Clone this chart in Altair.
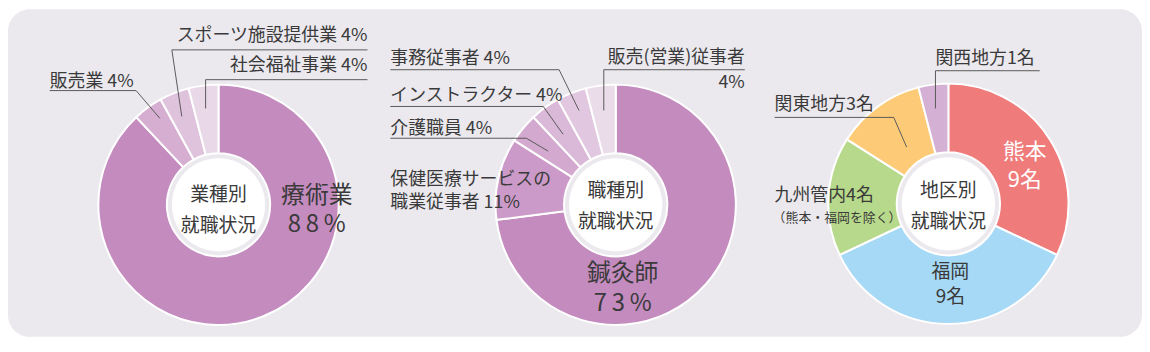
import altair as alt
import pandas as pd

OFF = 8  # page margin of the browser
FONT = "Noto Sans CJK JP"
TXT = "#3a3a3a"
LINE = "#5a5a5a"

# ---------------- data ----------------
# chart 1 : 業種別就職状況 (%)
c1_labels = ["療術業", "販売業", "スポーツ施設提供業", "社会福祉事業"]
c1_values = [88, 4, 4, 4]
# chart 2 : 職種別就職状況 (%)
c2_labels = ["鍼灸師", "保健医療サービスの\n職業従事者", "介護職員", "インストラクター", "事務従事者", "販売(営業)従事者"]
c2_values = [73, 11, 4, 4, 4, 4]
# chart 3 : 地区別就職状況 (persons, slice shares as drawn)
c3_labels = ["熊本", "福岡", "九州管内", "関東地方", "関西地方"]
c3_counts = [9, 9, 4, 3, 1]
c3_shares = [32, 36, 16, 12, 4]
c3_note = "（熊本・福岡を除く）"
titles = ["業種別\n就職状況", "職種別\n就職状況", "地区別\n就職状況"]

# ---------------- styles ----------------
c1_colors = ["#c48bbf", "#d5aed2", "#dfc3dd", "#e9d8e8"]
c2_colors = ["#c48bbf", "#cc9ac8", "#d3a9d0", "#dab8d8", "#e2c7e0", "#ebdcea"]
c3_colors = ["#ef7b7b", "#a6d9f6", "#b7d98b", "#fdcb78", "#d4b0d4"]

W, H = 1142, 330
R_OUT, R_IN = 121, 52
centers = [(220, 205), (620, 205), (955, 204)]


def donut(labels, values, colors, c):
    df = pd.DataFrame({"label": labels, "value": values, "color": colors,
                       "idx": list(range(len(labels)))})
    cx, cy = c
    return alt.Chart(df).mark_arc(radius=R_OUT, radius2=R_IN, stroke="white",
                                  strokeWidth=2).encode(
        theta=alt.Theta("value:Q", stack=True),
        order=alt.Order("idx:Q"),
        color=alt.Color("color:N", scale=None),
        x=alt.value(cx - OFF), y=alt.value(cy - OFF))


def hole(c):
    cx, cy = c
    return alt.Chart(pd.DataFrame({"a": [0]})).mark_circle(
        size=3.14159 * 53 * 53, color="white", opacity=1).encode(
        x=alt.value(cx - OFF), y=alt.value(cy - OFF))


def texts(rows, align, size, color=TXT, lh=None):
    # y is the middle of the first line
    df = pd.DataFrame(rows, columns=["t", "x", "y"])
    df["x"] = df["x"] - OFF
    df["y"] = df["y"] - OFF
    kw = dict(align=align, baseline="middle", fontSize=size, color=color,
              font=FONT, lineBreak="\n")
    if lh is not None:
        kw["lineHeight"] = lh
    return alt.Chart(df).mark_text(**kw).encode(
        x=alt.X("x:Q", scale=None, axis=None),
        y=alt.Y("y:Q", scale=None, axis=None),
        text="t:N")


def pct(v):
    return f"{v}%"


def spaced(s):
    return "\u2009".join(s)


# label rows (text, x, y) – layout
left_small = [
    (f"{c1_labels[1]} {pct(c1_values[1])}", 50, 81),
    (f"{c2_labels[4]} {pct(c2_values[4])}", 393, 58),
    (f"{c2_labels[3]} {pct(c2_values[3])}", 393, 95),
    (f"{c2_labels[2]} {pct(c2_values[2])}", 393, 129),
    (f"{c3_labels[4]}{c3_counts[4]}名", 942, 58),
    (f"{c3_labels[3]}{c3_counts[3]}名", 780, 105),
    (f"{c3_labels[2]}{c3_counts[2]}名", 780, 196),
]
left_two = [(f"{c2_labels[1]} {pct(c2_values[1])}", 393, 180)]
right_small = [
    (f"{c1_labels[2]} {pct(c1_values[2])}", 370, 35),
    (f"{c1_labels[3]} {pct(c1_values[3])}", 370, 65),
]
right_two = [(f"{c2_labels[5]}\n{pct(c2_values[5])}", 750, 57)]
note = [(c3_note, 778, 218)]
center_lbl = [
    (titles[0], 220, 195),
    (titles[1], 620, 191),
    (titles[2], 955, 191),
]
big1 = [(f"{c1_labels[0]}\n{spaced(pct(c1_values[0]))}", 319, 196)]
big2 = [(f"{c2_labels[0]}\n{spaced(pct(c2_values[0]))}", 627, 275)]
kuma = [(f"{c3_labels[0]}\n{c3_counts[0]}名", 1032, 152)]
fuku = [(f"{c3_labels[1]}\n{c3_counts[1]}名", 957, 273)]

# leader lines (polyline points) – layout
leaders = [
    [(50, 90), (137, 90), (161, 118)],
    [(370, 49), (173, 49), (183, 116)],
    [(370, 79), (207, 79), (207, 108)],
    [(393, 69), (563, 69), (583, 110)],
    [(393, 106), (547, 106), (567, 134)],
    [(393, 138), (530, 138), (552, 151)],
    [(750, 69), (608, 69), (608, 110)],
    [(1047, 70), (942, 70), (942, 108)],
    [(780, 117), (900, 117), (913, 147)],
]
lrows = []
for i, pts in enumerate(leaders):
    for j, (x, y) in enumerate(pts):
        lrows.append({"id": i, "seq": j, "x": x - OFF, "y": y - OFF})
ldf = pd.DataFrame(lrows)
lines = alt.Chart(ldf).mark_line(color=LINE, strokeWidth=1).encode(
    x=alt.X("x:Q", scale=None, axis=None),
    y=alt.Y("y:Q", scale=None, axis=None),
    detail="id:N", order="seq:Q")

bg = alt.Chart(pd.DataFrame({"a": [0]})).mark_rect(
    cornerRadius=22, color="#ebe9ee").encode(
    x=alt.value(0), x2=alt.value(W), y=alt.value(0), y2=alt.value(H))

chart = alt.layer(
    bg,
    donut(c1_labels, c1_values, c1_colors, centers[0]),
    donut(c2_labels, c2_values, c2_colors, centers[1]),
    donut(c3_labels, c3_shares, c3_colors, centers[2]),
    hole(centers[0]), hole(centers[1]), hole(centers[2]),
    lines,
    texts(left_small, "left", 18),
    texts(left_two, "left", 18, lh=23),
    texts(right_small, "right", 18),
    texts(right_two, "right", 18, lh=25),
    texts(note, "left", 13),
    texts(center_lbl, "center", 19, lh=31),
    texts(big1, "center", 24, lh=29),
    texts(big2, "center", 24, lh=30),
    texts(kuma, "center", 22, "white", lh=28),
    texts(fuku, "center", 19, lh=25),
).resolve_scale(theta="independent").properties(
    width=W, height=H, padding=0,
    autosize=alt.AutoSizeParams(type="none"),
    background="white",
).configure_view(stroke=None)

chart.save("out.html", embed_options={"renderer": "svg", "actions": False})
